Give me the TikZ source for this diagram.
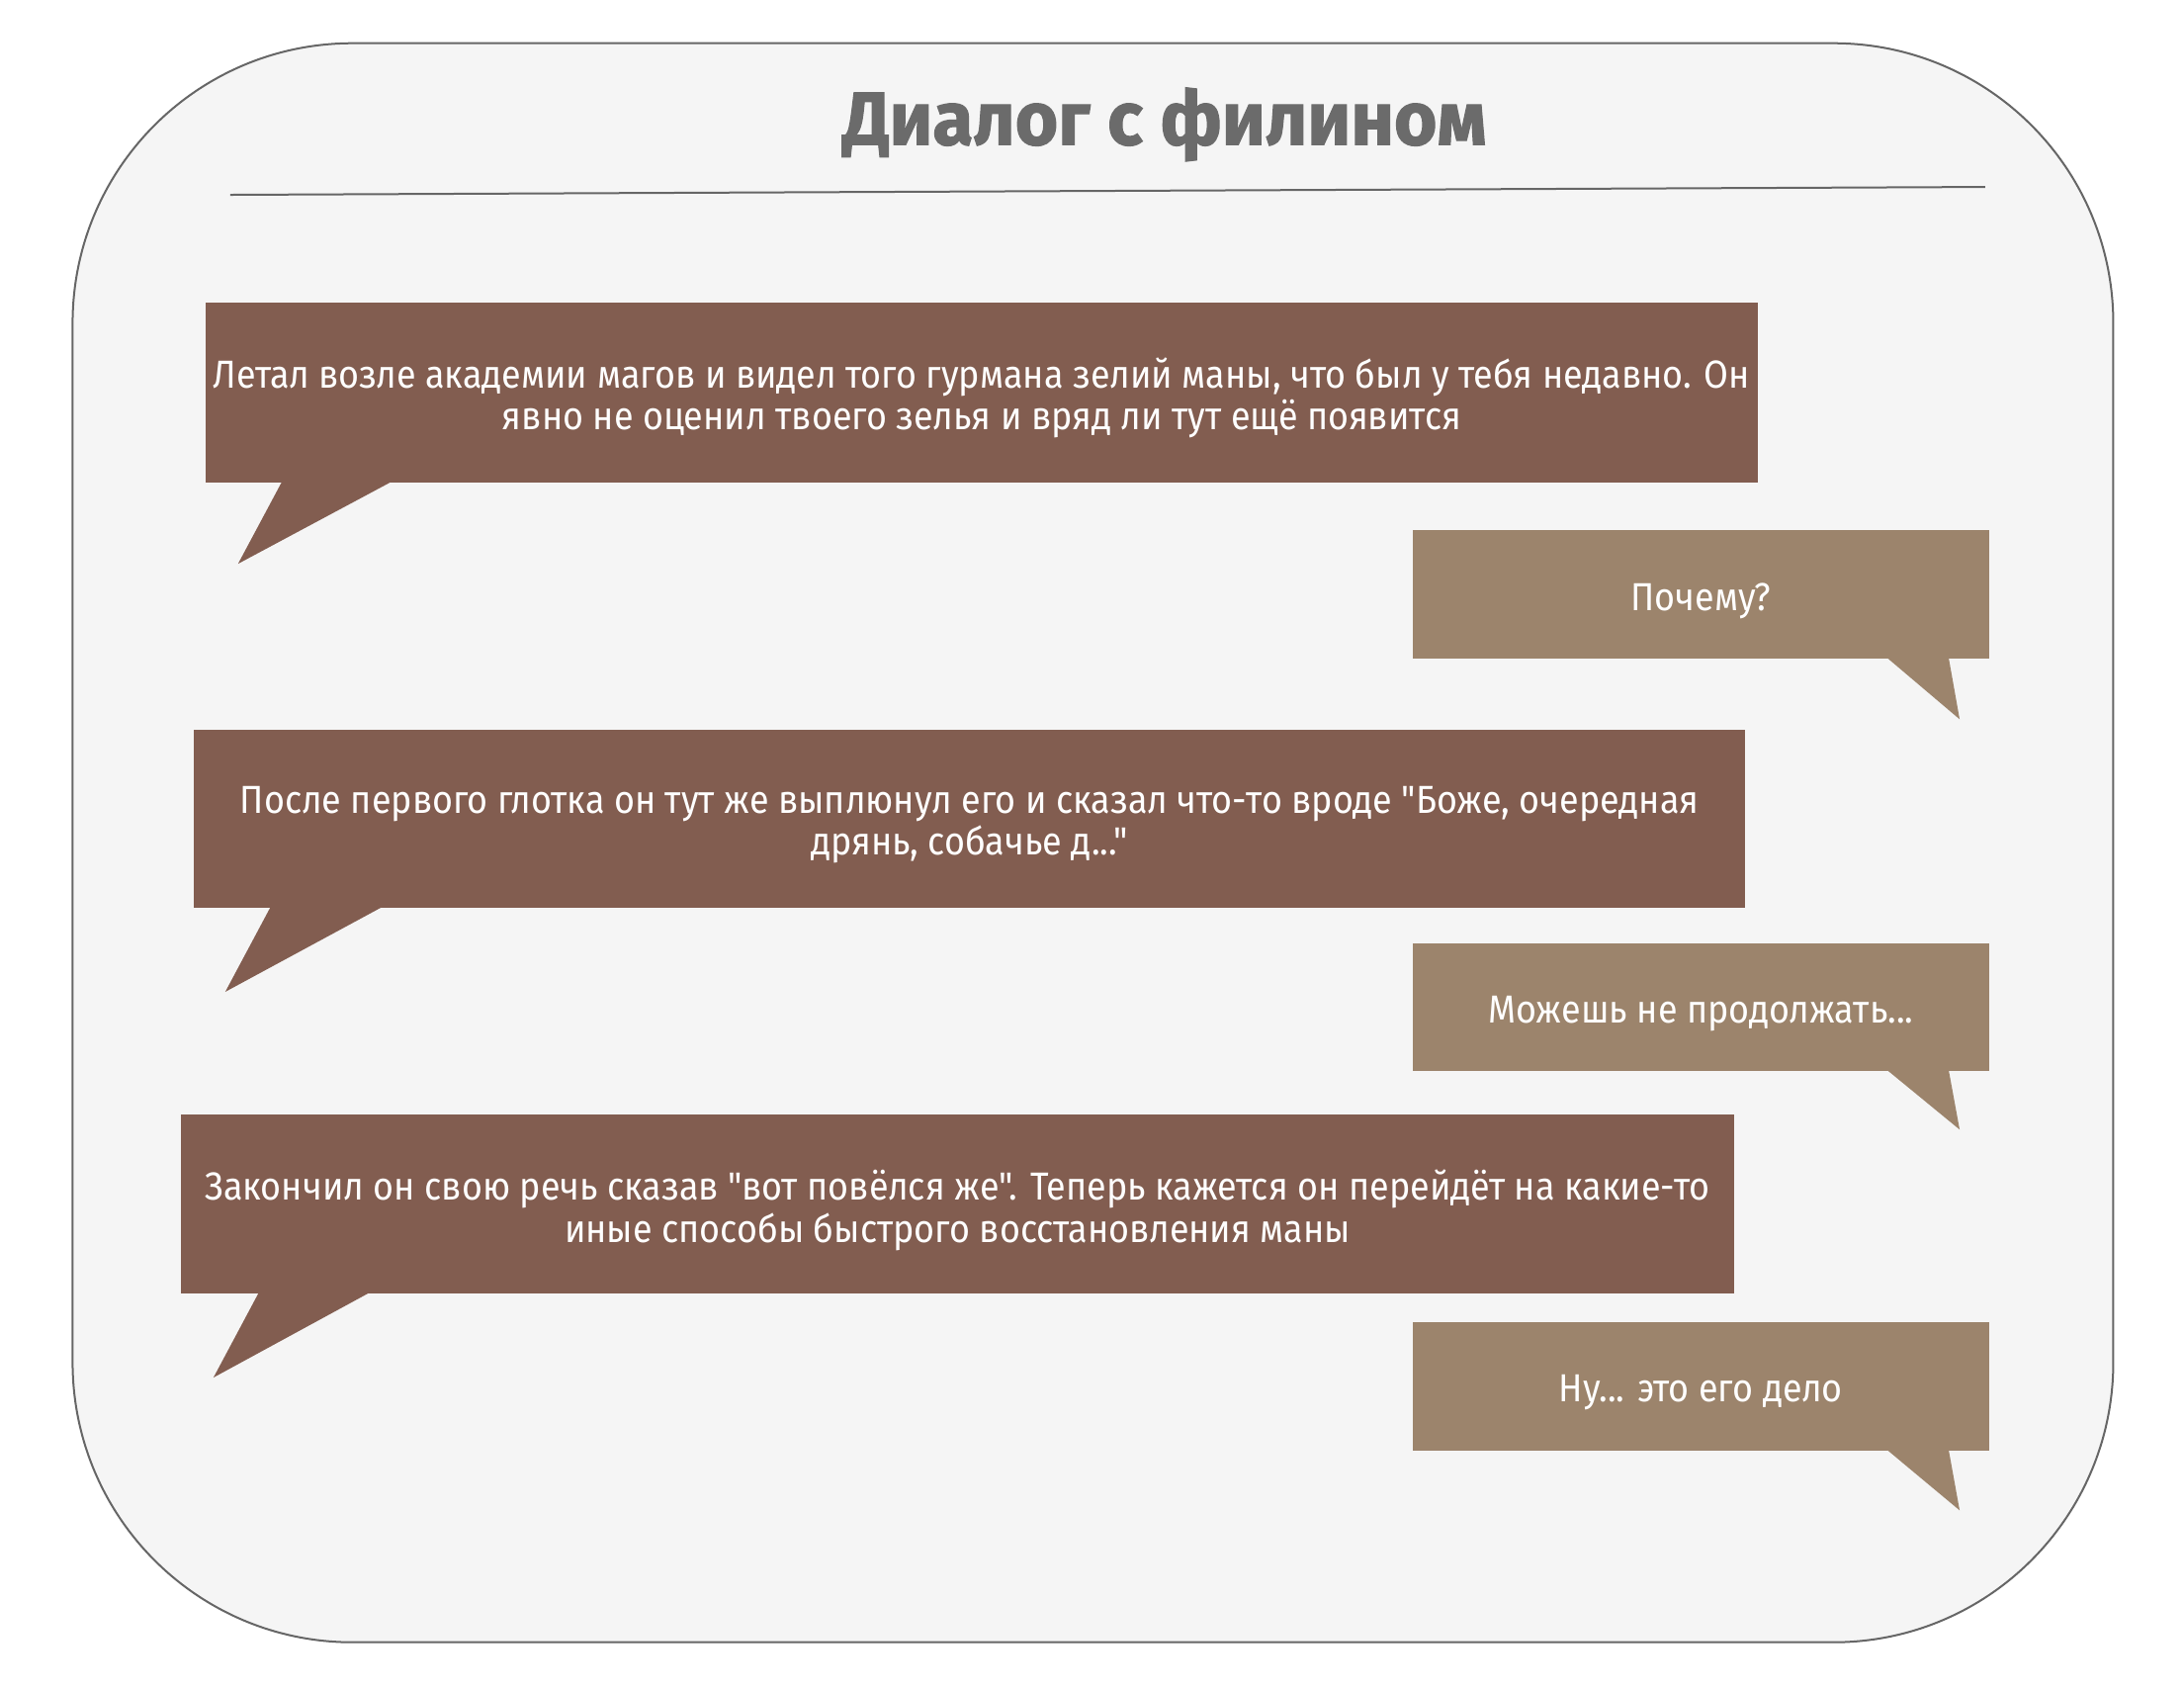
\documentclass[tikz,border=0pt]{standalone}
\usepackage{fontspec}
\setmainfont{Fira Sans}
\newfontfamily\bodyfont[FakeStretch=0.91]{Fira Sans}
\newfontfamily\titlefont[FakeStretch=0.98,FakeBold=1.5]{Fira Sans}
\definecolor{bgc}{HTML}{F5F5F5}
\definecolor{framec}{HTML}{666666}
\definecolor{titlec}{HTML}{6B6B6B}
\definecolor{darkb}{HTML}{825D50}
\definecolor{lightb}{HTML}{9C846C}
\begin{document}
\begin{tikzpicture}[x=0.995pt,y=-0.995pt,
  bubble/.style={fill=#1, draw=none, inner sep=0pt, outer sep=0pt},
  btext/.style={text=white, inner sep=0pt, font=\bodyfont\fontsize{39.5}{42.5}\selectfont, align=center}]
\useasboundingbox (0,0) rectangle (2220.1,1717.6);
\fill[white] (0,0) rectangle (2220.1,1717.6);
\node[draw=framec, fill=bgc, line width=2pt, rounded corners=283pt, minimum width=2064pt, minimum height=1617pt, inner sep=0pt] (frame) at (1111,856.5) {};
\node[text=titlec, font=\titlefont\bfseries\fontsize{76}{80}\selectfont, anchor=base] (title) at (1184,147) {Диалог с филином};
\coordinate (l1) at (234,198);
\coordinate (l2) at (2018,190);
\draw[framec, line width=2pt] (l1) -- (l2);
% bubble 1
\node[bubble=darkb, minimum width=1570pt, minimum height=182pt] (b1) at (998,398.5) {};
\node[btext] (b1t) at ([yshift=-6pt]b1.center) {Летал возле академии магов и видел того гурмана зелий маны, что был у тебя недавно. Он\\явно не оценил твоего зелья и вряд ли тут ещё появится};
\coordinate (t1) at (242,573);
\fill[darkb] ([xshift=78pt,yshift=2pt]b1.south west) -- (t1) -- ([xshift=191pt,yshift=2pt]b1.south west) -- cycle;
% bubble 2
\node[bubble=lightb, minimum width=583pt, minimum height=130pt] (b2) at (1729,604.5) {};
\node[btext] (b2t) at ([yshift=-6pt]b2.center) {Почему?};
\coordinate (t2) at (1992,731);
\fill[lightb] ([xshift=-104pt,yshift=2pt]b2.south east) -- (t2) -- ([xshift=-41pt,yshift=2pt]b2.south east) -- cycle;
% bubble 3
\node[bubble=darkb, minimum width=1569pt, minimum height=180pt] (b3) at (985.5,832.5) {};
\node[btext] (b3t) at ([yshift=-6pt]b3.center) {После первого глотка он тут же выплюнул его и сказал что-то вроде "Боже, очередная\\дрянь, собачье д..."};
\coordinate (t3) at (229,1008);
\fill[darkb] ([xshift=78pt,yshift=2pt]b3.south west) -- (t3) -- ([xshift=192pt,yshift=2pt]b3.south west) -- cycle;
% bubble 4
\node[bubble=lightb, minimum width=583pt, minimum height=129pt] (b4) at (1729,1024) {};
\node[btext] (b4t) at ([yshift=-6pt]b4.center) {Можешь не продолжать...};
\coordinate (t4) at (1992,1148);
\fill[lightb] ([xshift=-104pt,yshift=2pt]b4.south east) -- (t4) -- ([xshift=-41pt,yshift=2pt]b4.south east) -- cycle;
% bubble 5
\node[bubble=darkb, minimum width=1571pt, minimum height=181pt] (b5) at (973.5,1224) {};
\node[btext] (b5t) at ([yshift=-6pt]b5.center) {Закончил он свою речь сказав "вот повёлся же". Теперь кажется он перейдёт на какие-то\\иные способы быстрого восстановления маны};
\coordinate (t5) at (217,1400);
\fill[darkb] ([xshift=79pt,yshift=2pt]b5.south west) -- (t5) -- ([xshift=192pt,yshift=2pt]b5.south west) -- cycle;
% bubble 6
\node[bubble=lightb, minimum width=583pt, minimum height=130pt] (b6) at (1729,1409.5) {};
\node[btext] (b6t) at ([yshift=-6pt]b6.center) {Ну... это его дело};
\coordinate (t6) at (1992,1535);
\fill[lightb] ([xshift=-104pt,yshift=2pt]b6.south east) -- (t6) -- ([xshift=-41pt,yshift=2pt]b6.south east) -- cycle;
\end{tikzpicture}
\end{document}
